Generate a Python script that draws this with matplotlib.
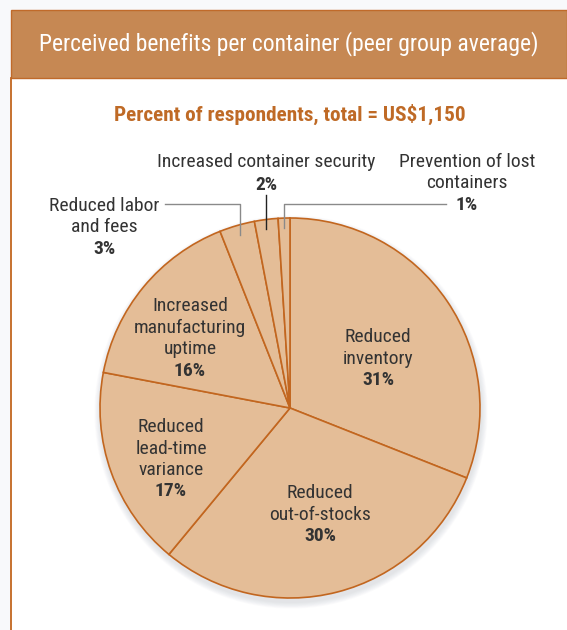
import numpy as np
import matplotlib
matplotlib.use('Agg')
import matplotlib.pyplot as plt
from matplotlib.patches import Rectangle, Circle

#Chart data
labels = ['Reduced inventory', 'Reduced out-of-stocks', 'Reduced lead-time variance',
          'Increased manufacturing uptime', 'Reduced labor and fees',
          'Increased container security', 'Prevention of lost containers']
shares = [31, 30, 17, 16, 3, 2, 1]
title = 'Perceived benefits per container (peer group average)'
subtitle = 'Percent of respondents, total = US$1,150'

#Colours
header_col = '#c68853'
edge_col = '#c2661f'
fill_col = '#e4bd97'
text_col = '#333333'
sub_col = '#bf6a26'

plt.rcParams['font.family'] = ['Roboto Condensed', 'DejaVu Sans']

W, H = 567, 630
fig = plt.figure(figsize=(W / 100, H / 100), dpi=100)
fig.patch.set_facecolor('#f8f9fb')
ax = fig.add_axes([0, 0, 1, 1])
ax.set_axis_off()

def Y(yd):
    #pixel row (top down) to axes y (bottom up), small nudge for text centring
    return H - yd

#Box and header
ax.add_patch(Rectangle((11, 0), W - 11, Y(10), facecolor='white', edgecolor='none', zorder=0))
ax.add_patch(Rectangle((11, Y(78)), W - 11, 68, facecolor=header_col, edgecolor='#c06a2a', lw=1, zorder=1))
ax.plot([11, 11], [0, Y(78)], color=edge_col, lw=1.3, zorder=1)
ax.text(289, Y(44), title, color='white', fontsize=17, ha='center', va='center', zorder=2)
ax.text(290, Y(114), subtitle, color=sub_col, fontsize=15.3, fontweight='bold', ha='center', va='center')

#Pie
cx, cy, r = 290, Y(408), 190
for k in range(8):
    ax.add_patch(Circle((cx + 1, cy - 4), r + 1 + k * 0.8, facecolor='#9aa0b0', alpha=0.035, edgecolor='none', zorder=2))
wedges, _ = ax.pie(shares, startangle=90, counterclock=False, center=(cx, cy), radius=r,
                   colors=[fill_col] * len(shares),
                   wedgeprops=dict(edgecolor=edge_col, linewidth=1.2, zorder=3))
for w in wedges:
    w.set_zorder(3)
ax.set_xlim(0, W)
ax.set_ylim(0, H)
ax.set_aspect('equal')

def mid_point(w, k=0.95):
    a = np.deg2rad((w.theta1 + w.theta2) / 2)
    return cx + k * r * np.cos(a), cy + k * r * np.sin(a)

def block(x, y0, lines, bold_last=True, step=21.5):
    for i, s in enumerate(lines):
        bold = bold_last and i == len(lines) - 1
        ax.text(x, Y(y0 + 2 + i * step), s, fontsize=14, color=text_col, ha='center', va='center',
                fontweight='bold' if bold else 'normal', zorder=5)

#Inside labels
block(378, 335, ['Reduced', 'inventory', '31%'])
block(320, 491, ['Reduced', 'out-of-stocks', '30%'])
block(171, 425, ['Reduced', 'lead-time', 'variance', '17%'])
block(190, 304, ['Increased', 'manufacturing', 'uptime', '16%'])

#Outside labels
block(104, 204, ['Reduced labor', 'and fees', '3%'])
block(266, 160, ['Increased container security', '2%'], step=23)
block(467, 160, ['Prevention of lost', 'containers', '1%'])

#Leader lines
lx, ly = mid_point(wedges[4])
ax.plot([165, lx, lx], [Y(204), Y(204), ly], color='#8a8a8a', lw=1, zorder=4)
sx, sy = mid_point(wedges[5])
ax.plot([266, 266], [Y(195), sy], color='#222222', lw=1, zorder=4)
px, py = mid_point(wedges[6])
ax.plot([446, px, px], [Y(204), Y(204), py], color='#8a8a8a', lw=1, zorder=4)

fig.savefig('out.png', dpi=100, facecolor=fig.get_facecolor())
